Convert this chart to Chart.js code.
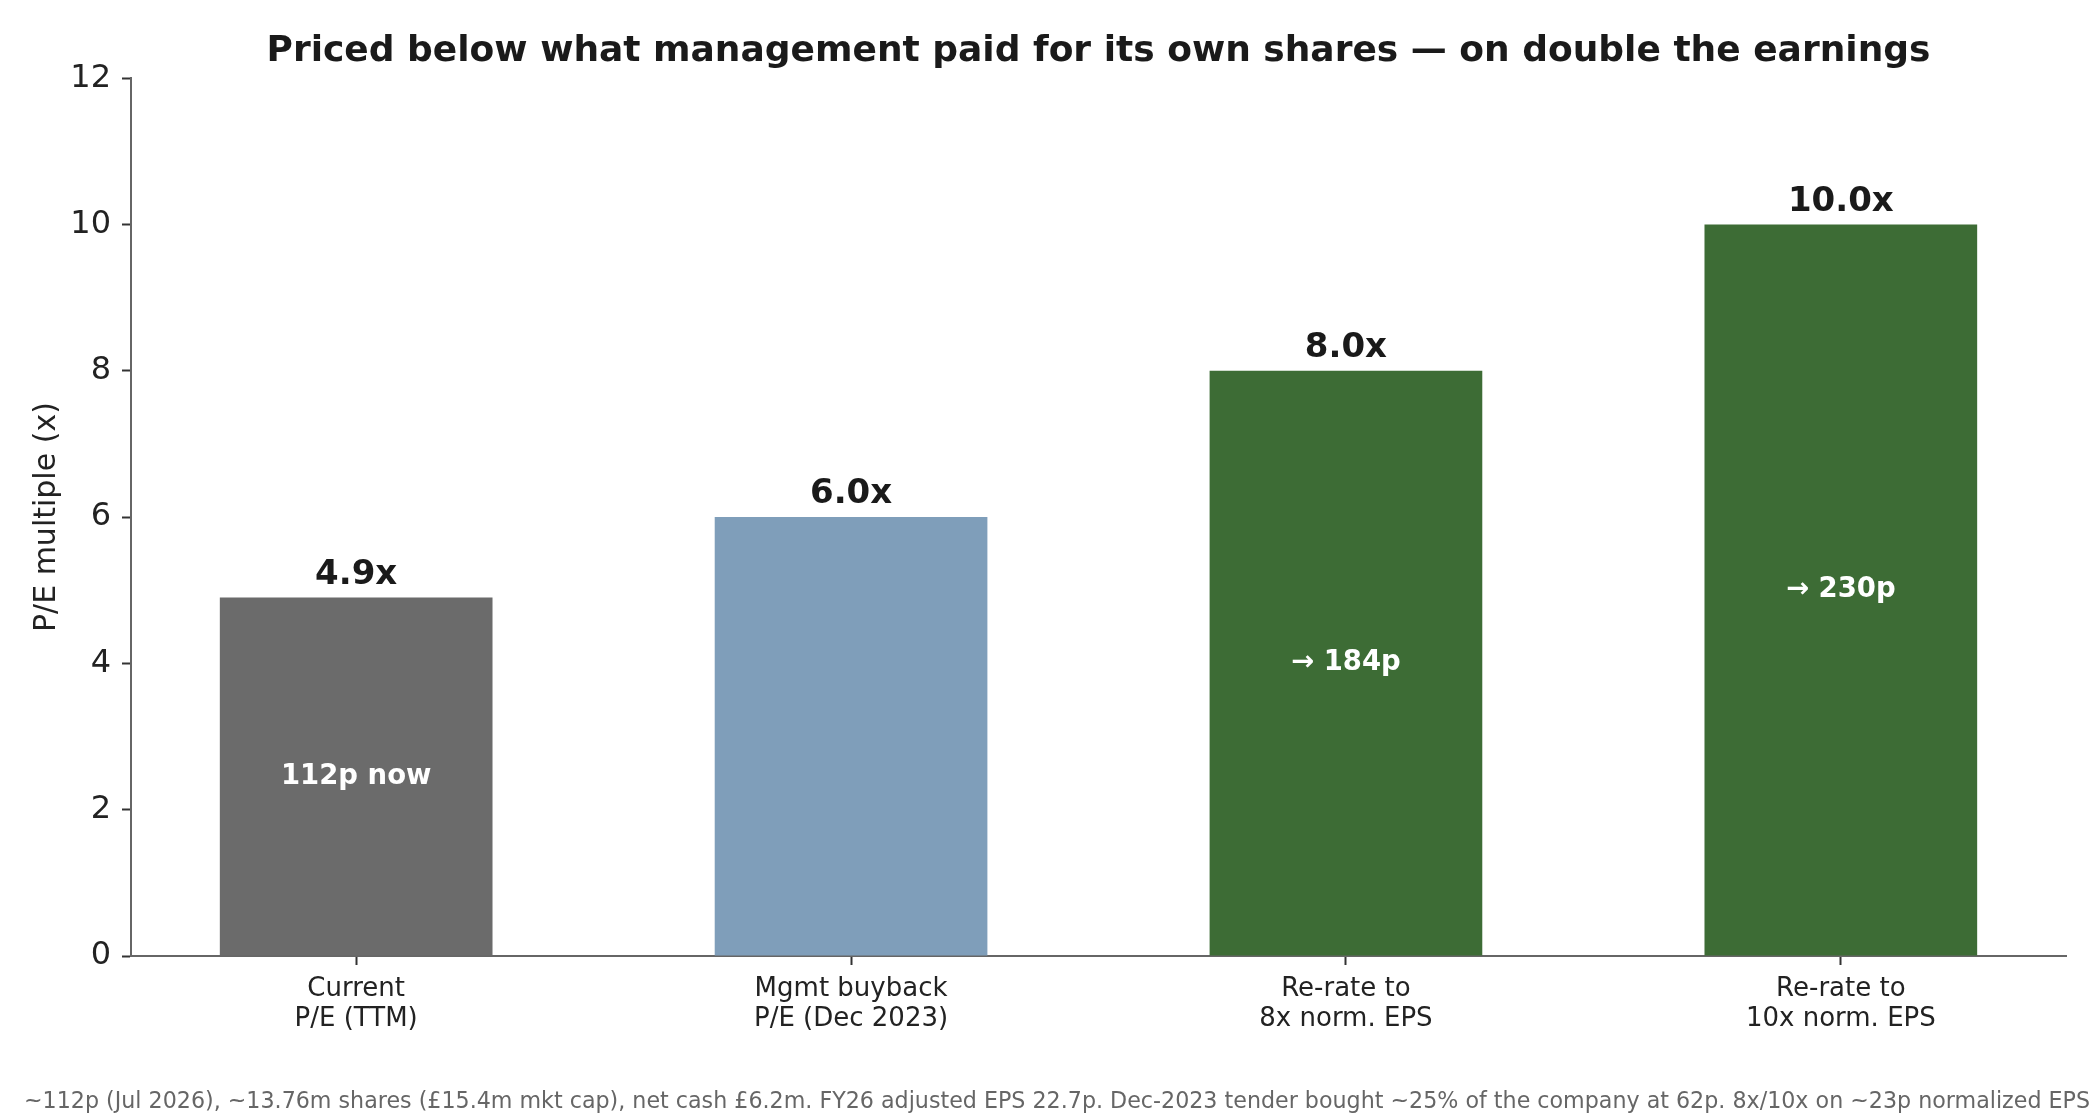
<!DOCTYPE html>
<html lang="en">
  <head>
    <meta charset="UTF-8" />
    <title>P/E multiple comparison</title>
    <script src="https://cdn.jsdelivr.net/npm/chart.js@4.4.1/dist/chart.umd.min.js"></script>
    <style>
      html, body {
        margin: 0;
        padding: 0;
        background: #ffffff;
      }
      #peChart {
        display: block;
      }
    </style>
  </head>
  <body>
    <canvas id="peChart" width="2100" height="1120"></canvas>

    <script>
      // Dados
      const categories = [
        ['Current', 'P/E (TTM)'],
        ['Mgmt buyback', 'P/E (Dec 2023)'],
        ['Re-rate to', '8x norm. EPS'],
        ['Re-rate to', '10x norm. EPS']
      ]
      const peMultiples = [4.9, 6.0, 8.0, 10.0]
      const valueLabels = ['4.9x', '6.0x', '8.0x', '10.0x']
      const innerLabels = ['112p now', '', '→ 184p', '→ 230p']
      const barColors = ['#6b6b6b', '#7f9eba', '#3d6c35', '#3d6c35']
      const yTicks = [0, 2, 4, 6, 8, 10, 12]

      const titleText =
        'Priced below what management paid for its own shares — on double the earnings'
      const footnote =
        '~112p (Jul 2026), ~13.76m shares (£15.4m mkt cap), net cash £6.2m. FY26 adjusted EPS 22.7p. Dec-2023 tender bought ~25% of the company at 62p. 8x/10x on ~23p normalized EPS'

      const FONT = "'DejaVu Sans', 'Liberation Sans', sans-serif"

      // Rótulos acima e dentro das barras
      const barLabelsPlugin = {
        id: 'barLabels',
        afterDatasetsDraw(chart) {
          const ctx = chart.ctx
          const meta = chart.getDatasetMeta(0)
          ctx.save()
          ctx.textAlign = 'center'
          meta.data.forEach((bar, i) => {
            ctx.fillStyle = '#1a1a1a'
            ctx.font = `bold 34px ${FONT}`
            ctx.textBaseline = 'alphabetic'
            ctx.fillText(valueLabels[i], bar.x, bar.y - 14)

            if (innerLabels[i]) {
              ctx.fillStyle = '#ffffff'
              ctx.font = `bold 27.5px ${FONT}`
              ctx.textBaseline = 'middle'
              ctx.fillText(innerLabels[i], bar.x, (bar.y + bar.base) / 2)
            }
          })
          ctx.restore()
        }
      }

      // Nota de rodapé
      const footnotePlugin = {
        id: 'footnote',
        afterDraw(chart) {
          const ctx = chart.ctx
          ctx.save()
          ctx.fillStyle = '#666666'
          ctx.font = `22.2px ${FONT}`
          ctx.textAlign = 'center'
          ctx.textBaseline = 'alphabetic'
          ctx.fillText(footnote, chart.width / 2 + 7, 1108)
          ctx.restore()
        }
      }

      const ctx = document.getElementById('peChart').getContext('2d')
      new Chart(ctx, {
        type: 'bar',
        data: {
          datasets: [
            {
              data: peMultiples.map((v, i) => ({ x: i, y: v })),
              backgroundColor: barColors,
              borderWidth: 0,
              categoryPercentage: 1,
              barPercentage: 0.551
            }
          ]
        },
        plugins: [barLabelsPlugin, footnotePlugin],
        options: {
          responsive: false,
          devicePixelRatio: 1,
          animation: false,
          layout: {
            padding: { left: 0, right: 34, top: 0, bottom: 0 }
          },
          plugins: {
            legend: { display: false },
            tooltip: { enabled: false },
            title: {
              display: true,
              text: titleText,
              fullSize: false,
              color: '#1a1a1a',
              font: { family: FONT, size: 36, weight: 'bold' },
              padding: { top: 30, bottom: 5 }
            }
          },
          scales: {
            x: {
              type: 'linear',
              min: -0.455,
              max: 3.455,
              offset: false,
              afterBuildTicks: axis => {
                axis.ticks = categories.map((_, i) => ({ value: i }))
              },
              afterFit: axis => {
                axis.height = 164
              },
              ticks: {
                callback: value => categories[value],
                color: '#222222',
                font: { family: FONT, size: 26, lineHeight: 1.15 },
                padding: 9,
                maxRotation: 0,
                autoSkip: false
              },
              grid: {
                offset: false,
                drawOnChartArea: false,
                drawTicks: true,
                tickLength: 9,
                tickColor: '#333333',
                tickWidth: 2
              },
              border: { display: true, color: '#666666', width: 2 }
            },
            y: {
              min: 0,
              max: 12,
              afterBuildTicks: axis => {
                axis.ticks = yTicks.map(v => ({ value: v }))
              },
              afterFit: axis => {
                axis.width = 131
              },
              ticks: {
                color: '#222222',
                font: { family: FONT, size: 32 },
                padding: 11
              },
              grid: {
                drawOnChartArea: false,
                drawTicks: true,
                tickLength: 9,
                tickColor: '#333333',
                tickWidth: 2
              },
              border: { display: true, color: '#666666', width: 2 },
              title: {
                display: true,
                text: 'P/E multiple (x)',
                color: '#222222',
                font: { family: FONT, size: 30 },
                padding: { top: 29, bottom: 0 }
              }
            }
          }
        }
      })
    </script>
  </body>
</html>
